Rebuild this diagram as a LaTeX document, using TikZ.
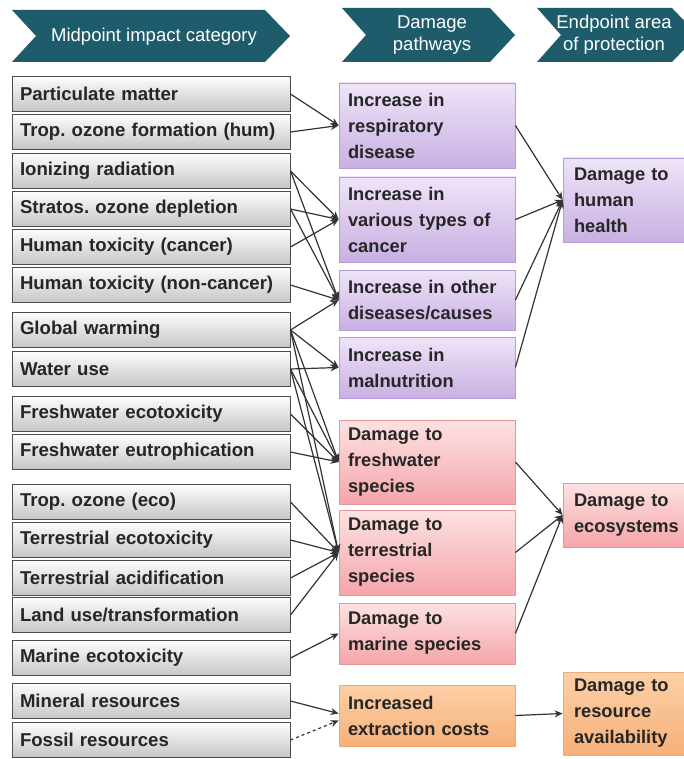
\documentclass[tikz,border=0pt]{standalone}
\usepackage{fontspec}
\setmainfont{Liberation Sans}
\usetikzlibrary{arrows.meta}
\frenchspacing
\definecolor{hdrteal}{HTML}{1F5C6B}
\definecolor{purtop}{HTML}{EFE4F8}
\definecolor{purbot}{HTML}{C8B0E2}
\definecolor{purline}{HTML}{B59CD6}
\definecolor{pnktop}{HTML}{FDE2E2}
\definecolor{pnkbot}{HTML}{F4A5AA}
\definecolor{pnkline}{HTML}{E3989C}
\definecolor{orgtop}{HTML}{FCD0A6}
\definecolor{orgbot}{HTML}{F6B07A}
\definecolor{orgline}{HTML}{EBAA7A}
\begin{document}
\begin{tikzpicture}[x=1pt,y=1pt,
  catbox/.style={draw=black!70, line width=1pt, top color=gray!2, bottom color=gray!45,
    minimum height=35pt, text width=262pt, inner xsep=8pt, inner ysep=0pt, align=left,
    font=\bfseries\fontsize{18.6}{22}\selectfont, text=black!85},
  pathbox/.style={line width=0.8pt, text width=158pt, inner xsep=9pt, inner ysep=0pt,
    align=left, font=\bfseries\fontsize{18.3}{26}\selectfont, text=black!85},
  endbox/.style={pathbox, text width=112pt, inner xsep=11pt},
  hum/.style={draw=purline, top color=purtop, bottom color=purbot},
  eco/.style={draw=pnkline, top color=pnktop, bottom color=pnkbot},
  res/.style={draw=orgline, top color=orgtop, bottom color=orgbot},
  hdrtext/.style={text=white, align=center, font=\fontsize{18.5}{22}\selectfont},
  link/.style={draw=black!80, line width=1.2pt, -{Stealth[length=8pt,width=7pt]}}]
\useasboundingbox (0,0) rectangle (684,-759);
\fill [white] (0,0) rectangle (684,-759);
% header chevrons
\fill [hdrteal] (12,-10) -- (265,-10) -- (290,-36) -- (265,-62) -- (12,-62) -- (36,-36) -- cycle;
\fill [hdrteal] (342,-8) -- (490,-8) -- (515,-35) -- (490,-62) -- (342,-62) -- (366,-35) -- cycle;
\fill [hdrteal] (537,-8) -- (672,-8) -- (698,-35) -- (672,-62) -- (537,-62) -- (561,-35) -- cycle;
\node [hdrtext] (hmid) at (154,-37) {Midpoint impact category};
\node [hdrtext] (hpath) at (432,-35) {Damage\\pathways};
\node [hdrtext] (hend) at (614,-35) {Endpoint area\\of protection};
% midpoint impact categories
\node [catbox] (pm) at (151,-94) {Particulate matter};
\node [catbox] (tofh) at (151,-132) {Trop. ozone formation (hum)};
\node [catbox] (ir) at (151,-171) {Ionizing radiation};
\node [catbox] (sod) at (151,-209) {Stratos. ozone depletion};
\node [catbox] (htc) at (151,-247) {Human toxicity (cancer)};
\node [catbox] (htn) at (151,-285) {Human toxicity (non-cancer)};
\node [catbox] (gw) at (151,-330) {Global warming};
\node [catbox] (wu) at (151,-369) {Water use};
\node [catbox] (fet) at (151,-414) {Freshwater ecotoxicity};
\node [catbox] (feu) at (151,-452) {Freshwater eutrophication};
\node [catbox] (toe) at (151,-502) {Trop. ozone (eco)};
\node [catbox] (tet) at (151,-540) {Terrestrial ecotoxicity};
\node [catbox] (ta) at (151,-578) {Terrestrial acidification};
\node [catbox] (lu) at (151,-615) {Land use/transformation};
\node [catbox] (met) at (151,-658) {Marine ecotoxicity};
\node [catbox] (mr) at (151,-701) {Mineral resources};
\node [catbox] (fr) at (151,-740) {Fossil resources};
% damage pathways
\node [pathbox, hum, minimum height=85pt] (resp) at (427,-125.5) {Increase in\\respiratory\\disease};
\node [pathbox, hum, minimum height=85pt] (canc) at (427,-219.5) {Increase in\\various types of\\cancer};
\node [pathbox, hum, minimum height=60pt] (othr) at (427,-300) {Increase in other\\diseases/causes};
\node [pathbox, hum, minimum height=61pt] (maln) at (427,-367.5) {Increase in\\malnutrition};
\node [pathbox, eco, minimum height=84pt] (fws) at (427,-462) {Damage to\\freshwater\\species};
\node [pathbox, eco, minimum height=85pt] (tes) at (427,-552.5) {Damage to\\terrestrial\\species};
\node [pathbox, eco, minimum height=61pt] (mas) at (427,-633.5) {Damage to\\marine species};
\node [pathbox, res, minimum height=61pt] (exc) at (427,-715.5) {Increased\\extraction costs};
% endpoint areas of protection
\node [endbox, hum, minimum height=84pt] (hh) at (630,-200) {Damage to\\human\\health};
\node [endbox, eco, minimum height=64pt] (ecos) at (630,-515) {Damage to\\ecosystems};
\node [endbox, res, minimum height=83pt] (ra) at (630,-713.5) {Damage to\\resource\\availability};
% midpoint to damage pathway
\draw [link] (pm.east) -- (resp.west);
\draw [link] (tofh.east) -- (resp.west);
\draw [link] (ir.east) -- (canc.west);
\draw [link] (ir.east) -- (othr.west);
\draw [link] (sod.east) -- (canc.west);
\draw [link] (sod.east) -- (othr.west);
\draw [link] (htc.east) -- (canc.west);
\draw [link] (htn.east) -- (othr.west);
\draw [link] (gw.east) -- (othr.west);
\draw [link] (gw.east) -- (maln.west);
\draw [link] (gw.east) -- (fws.west);
\draw [link] (gw.east) -- (tes.west);
\draw [link] (wu.east) -- (maln.west);
\draw [link] (wu.east) -- (fws.west);
\draw [link] (wu.east) -- (tes.west);
\draw [link] (fet.east) -- (fws.west);
\draw [link] (feu.east) -- (fws.west);
\draw [link] (toe.east) -- (tes.west);
\draw [link] (tet.east) -- (tes.west);
\draw [link] (ta.east) -- (tes.west);
\draw [link] (lu.east) -- (tes.west);
\draw [link] (met.east) -- (mas.west);
\draw [link] (mr.east) -- ([yshift=2pt]exc.west);
\draw [link, dashed] (fr.east) -- ([yshift=-5pt]exc.west);
% damage pathway to endpoint
\draw [link] (resp.east) -- (hh.west);
\draw [link] (canc.east) -- (hh.west);
\draw [link] (othr.east) -- (hh.west);
\draw [link] (maln.east) -- (hh.west);
\draw [link] (fws.east) -- (ecos.west);
\draw [link] (tes.east) -- (ecos.west);
\draw [link] (mas.east) -- (ecos.west);
\draw [link] (exc.east) -- (ra.west);
\end{tikzpicture}
\end{document}
